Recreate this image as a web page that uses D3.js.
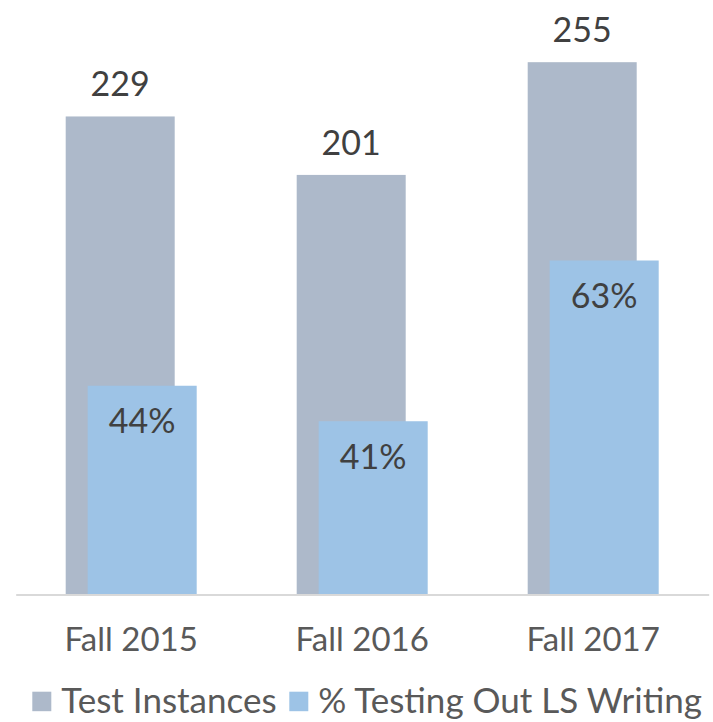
<!DOCTYPE html>
<html>
<head>
<meta charset="UTF-8">
<title>Test Instances vs % Testing Out LS Writing</title>
<script src="https://cdn.jsdelivr.net/npm/d3@7"></script>
<style>
  body { margin: 0; background: #fff; }
  text { font-family: Lato, "Open Sans", sans-serif; }
</style>
</head>
<body>
<div id="chart"></div>
<script>
// data
var terms = ["Fall 2015", "Fall 2016", "Fall 2017"];
var testInstances = [229, 201, 255];
// number who tested out (bar height); label shows it as % of instances
var testedOut = [100, 83, 160];
var seriesNames = ["Test Instances", "% Testing Out LS Writing"];
var colors = ["#ADB9CA", "#9DC3E6"];

var W = 713, H = 722;
var svg = d3.select("#chart").append("svg")
    .attr("width", W).attr("height", H);

//scales
var x = d3.scaleBand().domain(terms).range([15.7, 708.7]);
var y = d3.scaleLinear().domain([0, 300]).range([594.5, 594.5 - 300 * 2.0875]);
var barW = 109, shift = 22;

var rows = terms.map(function (t, i) {
    return { term: t, inst: testInstances[i], out: testedOut[i] };
});

var g = svg.append("g");

//gray bars behind
g.selectAll(".inst").data(rows).enter().append("rect")
    .attr("class", "inst")
    .attr("x", function (d) { return x(d.term) + x.bandwidth() / 2 - shift / 2 - barW / 2; })
    .attr("y", function (d) { return y(d.inst); })
    .attr("width", barW)
    .attr("height", function (d) { return y(0) - y(d.inst); })
    .attr("fill", colors[0]);

//blue bars in front
g.selectAll(".out").data(rows).enter().append("rect")
    .attr("class", "out")
    .attr("x", function (d) { return x(d.term) + x.bandwidth() / 2 + shift / 2 - barW / 2; })
    .attr("y", function (d) { return y(d.out); })
    .attr("width", barW)
    .attr("height", function (d) { return y(0) - y(d.out); })
    .attr("fill", colors[1]);

//value labels
g.selectAll(".instLbl").data(rows).enter().append("text")
    .attr("x", function (d) { return x(d.term) + x.bandwidth() / 2 - shift / 2; })
    .attr("y", function (d) { return y(d.inst) - 20; })
    .attr("text-anchor", "middle")
    .style("font-size", "34px")
    .attr("fill", "#404040")
    .text(function (d) { return d.inst; });

g.selectAll(".outLbl").data(rows).enter().append("text")
    .attr("x", function (d) { return x(d.term) + x.bandwidth() / 2 + shift / 2; })
    .attr("y", function (d) { return y(d.out) + 47.5; })
    .attr("text-anchor", "middle")
    .style("font-size", "34px")
    .attr("fill", "#404040")
    .text(function (d) { return Math.round(d.out / d.inst * 100) + "%"; });

//x axis
var xAxis = svg.append("g")
    .attr("transform", "translate(0," + y(0) + ")")
    .call(d3.axisBottom(x).tickSize(0).tickPadding(33));
xAxis.select(".domain").attr("stroke", "#D9D9D9").attr("stroke-width", 2);
xAxis.selectAll(".tick text")
    .style("font-size", "33px")
    .style("font-family", "Lato, sans-serif")
    .attr("fill", "#595959")
    .attr("dy", "0.72em");

//legend
var legend = svg.append("g").attr("transform", "translate(32.3,691.7)");
var items = [{ name: seriesNames[0], c: colors[0], x: 0 }, { name: seriesNames[1], c: colors[1], x: 257 }];
var li = legend.selectAll("g").data(items).enter().append("g")
    .attr("transform", function (d) { return "translate(" + d.x + ",0)"; });
li.append("rect").attr("width", 19).attr("height", 19.5).attr("fill", function (d) { return d.c; });
li.append("text")
    .attr("x", 29)
    .attr("y", 21)
    .style("font-size", "35px")
    .attr("fill", "#595959")
    .text(function (d) { return d.name; });
</script>
</body>
</html>
